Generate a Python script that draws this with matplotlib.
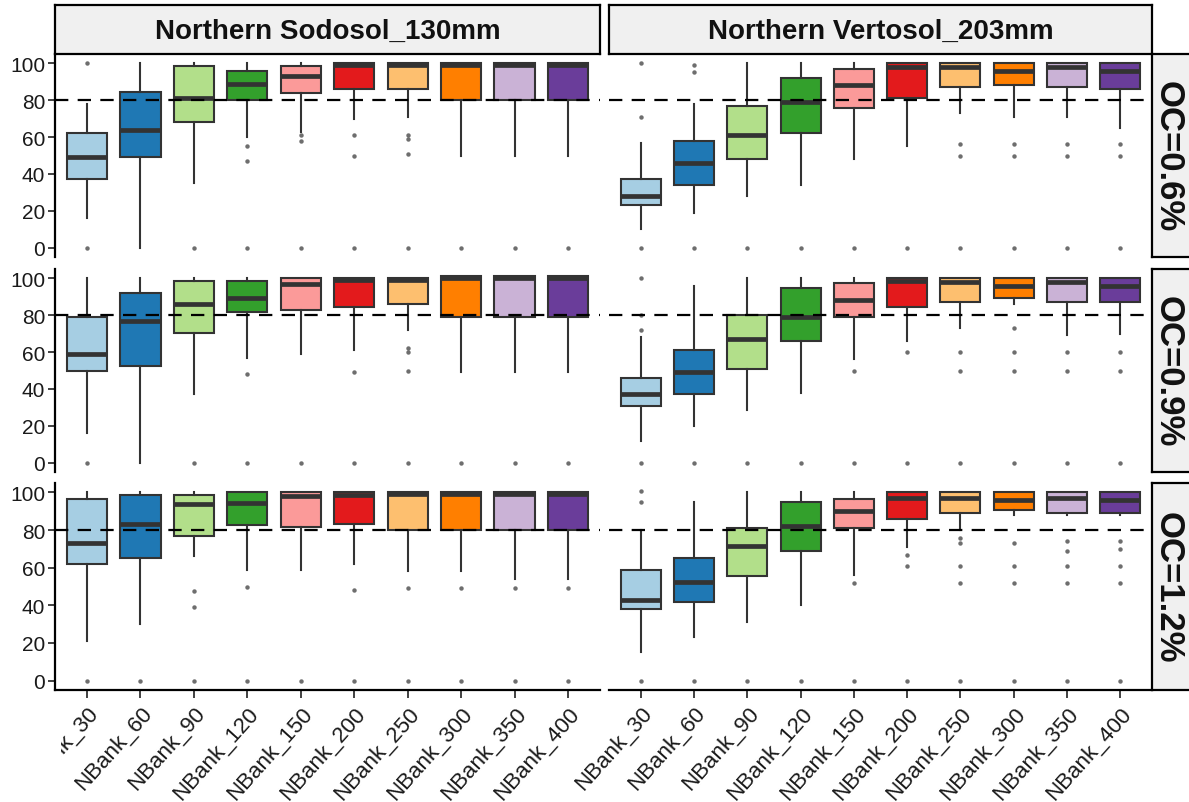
import matplotlib
matplotlib.use("Agg")
import matplotlib.pyplot as plt
from matplotlib.patches import Rectangle

# ── data ──────────────────────────────────────────────────────────────────────
treatments = ["NBank_30", "NBank_60", "NBank_90", "NBank_120", "NBank_150",
              "NBank_200", "NBank_250", "NBank_300", "NBank_350", "NBank_400"]
soils = ["Northern Sodosol_130mm", "Northern Vertosol_203mm"]
oc_levels = ["OC=0.6%", "OC=0.9%", "OC=1.2%"]

# Sodosol, OC=0.6%
sod06_lo = [16, 0, 35, 60, 63, 70, 71, 50, 50, 50]
sod06_q1 = [37, 49, 68, 80, 84, 86, 86, 80, 80, 80]
sod06_med = [49, 64, 81, 89, 93, 99, 99, 99, 99, 99]
sod06_q3 = [62, 84.5, 98.5, 96, 98.5, 100, 100, 100, 100, 100]
sod06_hi = [78, 100, 100, 100, 100, 100, 100, 100, 100, 100]
sod06_out = [[100, 0], [], [0], [55, 47, 0], [61, 58, 0], [61, 50, 0],
             [61, 59, 51, 0], [0], [0], [0]]

# Vertosol, OC=0.6%
ver06_lo = [10, 19, 28, 34, 48, 55, 73, 71, 71, 65]
ver06_q1 = [23, 34, 48, 62, 76, 81, 87, 88, 87, 86]
ver06_med = [28, 46, 61, 79, 88, 98, 98, 96, 98, 96]
ver06_q3 = [37, 58, 77, 92, 97, 100, 100, 100, 100, 100]
ver06_hi = [57, 78, 100, 100, 100, 100, 100, 100, 100, 100]
ver06_out = [[100, 71, 0], [99, 95, 0], [0], [0], [0], [0],
             [56, 50, 0], [56, 50, 0], [56, 50, 0], [56, 50, 0]]

# Sodosol, OC=0.9%
sod09_lo = [16, 0, 37, 57, 59, 61, 72, 49, 49, 49]
sod09_q1 = [50, 52.5, 70.5, 81.5, 83, 84.5, 86, 79, 79, 79]
sod09_med = [59, 77, 86, 89.5, 97, 99, 99, 100, 100, 100]
sod09_q3 = [79, 92, 98.5, 98.5, 100, 100, 100, 101, 101, 101]
sod09_hi = [100, 100, 100, 100, 100, 100, 100, 101, 101, 101]
sod09_out = [[0], [], [0], [48, 0], [0], [49, 0], [62, 60, 50, 0],
             [0], [0], [0]]

# Vertosol, OC=0.9%
ver09_lo = [12, 20, 28.5, 38, 56, 66, 73, 86, 69, 70]
ver09_q1 = [30.5, 37.5, 51, 66, 79, 84.5, 87, 89.5, 87, 87]
ver09_med = [37, 49, 67, 79, 88, 98.5, 98, 96, 98, 96]
ver09_q3 = [46, 61, 80, 94.5, 97.5, 100, 100, 100, 100, 100]
ver09_hi = [68, 96, 100, 100, 100, 100, 100, 100, 100, 100]
ver09_out = [[100, 80, 72, 0], [0], [0], [0], [50, 0], [60, 0],
             [60, 50, 0], [73, 60, 50, 0], [60, 50, 0], [60, 50, 0]]

# Sodosol, OC=1.2%
sod12_lo = [21, 30, 66, 59, 59, 62, 58, 58, 54, 54]
sod12_q1 = [62, 65, 77, 82.5, 81.5, 83, 80, 80, 80, 80]
sod12_med = [73, 83, 94, 94.5, 98, 98.5, 99, 99, 99, 99]
sod12_q3 = [96.5, 98.5, 98.5, 100, 100, 100, 100, 100, 100, 100]
sod12_hi = [100, 100, 100, 100, 100, 100, 100, 100, 100, 100]
sod12_out = [[0], [0], [47.5, 39, 0], [50, 0], [0], [48, 0],
             [49, 0], [49, 0], [49, 0], [49, 0]]

# Vertosol, OC=1.2%
ver12_lo = [15, 23, 31, 40, 56, 71, 80, 88, 88, 88]
ver12_q1 = [38, 42, 55.5, 69, 81, 86, 89, 90.5, 89, 89]
ver12_med = [43, 52.5, 71.5, 82, 90, 97, 97, 96, 97, 96]
ver12_q3 = [59, 65, 81, 95, 96.5, 100, 100, 100, 100, 100]
ver12_hi = [80, 95, 100, 100, 100, 100, 100, 100, 100, 100]
ver12_out = [[101, 95, 0], [0], [0], [0], [52, 0], [67, 61, 0],
             [76, 73, 61, 52, 0], [73, 61, 52, 0], [74, 69, 61, 52, 0],
             [74, 70, 61, 52, 0]]

threshold = 80
y_ticks = [0, 20, 40, 60, 80, 100]

# RColorBrewer "Paired"
colors = ["#A6CEE3", "#1F78B4", "#B2DF8A", "#33A02C", "#FB9A99",
          "#E31A1C", "#FDBF6F", "#FF7F00", "#CAB2D6", "#6A3D9A"]

panels = [
    [(sod06_lo, sod06_q1, sod06_med, sod06_q3, sod06_hi, sod06_out),
     (ver06_lo, ver06_q1, ver06_med, ver06_q3, ver06_hi, ver06_out)],
    [(sod09_lo, sod09_q1, sod09_med, sod09_q3, sod09_hi, sod09_out),
     (ver09_lo, ver09_q1, ver09_med, ver09_q3, ver09_hi, ver09_out)],
    [(sod12_lo, sod12_q1, sod12_med, sod12_q3, sod12_hi, sod12_out),
     (ver12_lo, ver12_q1, ver12_med, ver12_q3, ver12_hi, ver12_out)],
]

# ── layout (pixels) ───────────────────────────────────────────────────────────
W, H = 1189, 803
FONT = ["Liberation Sans", "DejaVu Sans"]
col_x = [(55, 600), (609, 1152)]
row_y = [(55, 258), (270, 473), (484, 691)]
strip_top = (6, 55)
strip_right = (1152, 1200)
DARK = "#333333"


def frac(x0, y0, x1, y1):
    return [x0 / W, 1 - y1 / H, (x1 - x0) / W, (y1 - y0) / H]


fig = plt.figure(figsize=(W / 100, H / 100), dpi=100)
fig.patch.set_facecolor("white")

positions = list(range(1, len(treatments) + 1))

for r, row in enumerate(panels):
    for c, (lo, q1, med, q3, hi, out) in enumerate(row):
        ax = fig.add_axes(frac(col_x[c][0], row_y[r][0], col_x[c][1], row_y[r][1]))
        stats = [dict(whislo=lo[i], q1=q1[i], med=med[i], q3=q3[i],
                      whishi=hi[i], fliers=out[i])
                 for i in range(len(treatments))]
        bp = ax.bxp(stats, positions=positions, widths=0.75, patch_artist=True,
                    showcaps=False,
                    boxprops=dict(edgecolor=DARK, linewidth=1.5),
                    medianprops=dict(color=DARK, linewidth=3.4, solid_capstyle="butt"),
                    whiskerprops=dict(color=DARK, linewidth=1.5),
                    flierprops=dict(marker="o", markersize=3.2,
                                    markerfacecolor="#555555",
                                    markeredgecolor="none", alpha=0.85))
        for patch, col in zip(bp["boxes"], colors):
            patch.set_facecolor(col)

        ax.axhline(threshold, color="black", linewidth=1.6,
                   linestyle=(0, (6, 4.2)), zorder=5)

        ax.set_xlim(0.4, 10.6)
        ax.set_ylim(-5, 105)
        ax.set_facecolor("white")
        for side in ("top", "right"):
            ax.spines[side].set_visible(False)
        ax.spines["left"].set_visible(c == 0)
        ax.spines["bottom"].set_visible(r == 2)
        ax.spines["left"].set_linewidth(1.6)
        ax.spines["bottom"].set_linewidth(1.6)

        if c == 0:
            ax.set_yticks(y_ticks)
            ax.set_yticklabels([str(v) for v in y_ticks], fontsize=15,
                               family=FONT, color="#1a1a1a")
            ax.tick_params(axis="y", length=5, width=1.3, pad=2, color=DARK)
        else:
            ax.set_yticks([])

        if r == 2:
            ax.set_xticks(positions)
            ax.set_xticklabels(treatments, rotation=48, ha="right", va="top",
                               rotation_mode="anchor", fontsize=16,
                               family=FONT, color="#1a1a1a")
            ax.tick_params(axis="x", length=6, width=1.3, pad=3, color=DARK)
        else:
            ax.set_xticks([])

# column strips
for c, label in enumerate(soils):
    sax = fig.add_axes(frac(col_x[c][0], strip_top[0], col_x[c][1], strip_top[1]))
    sax.set_facecolor("#F0F0F0")
    sax.set_xticks([])
    sax.set_yticks([])
    for sp in sax.spines.values():
        sp.set_linewidth(1.6)
    sax.text(0.5, 0.47, label, transform=sax.transAxes, ha="center", va="center",
             fontsize=20, fontweight="bold", family=FONT, color="#111111")

# row strips
for r, label in enumerate(oc_levels):
    sax = fig.add_axes(frac(strip_right[0], row_y[r][0], strip_right[1], row_y[r][1]))
    sax.set_facecolor("#F0F0F0")
    sax.set_xticks([])
    sax.set_yticks([])
    for sp in sax.spines.values():
        sp.set_linewidth(1.6)
    sax.text(0.33, 0.5, label, transform=sax.transAxes, ha="center", va="center",
             rotation=-90, fontsize=25, fontweight="bold", family=FONT,
             color="#111111")

# the export is trimmed just left of the first panel below the axis
fig.add_artist(Rectangle((0, 0), 61 / W, (H - 695) / H, transform=fig.transFigure,
                         facecolor="white", edgecolor="none", zorder=10))

fig.savefig("out.png", dpi=100)
